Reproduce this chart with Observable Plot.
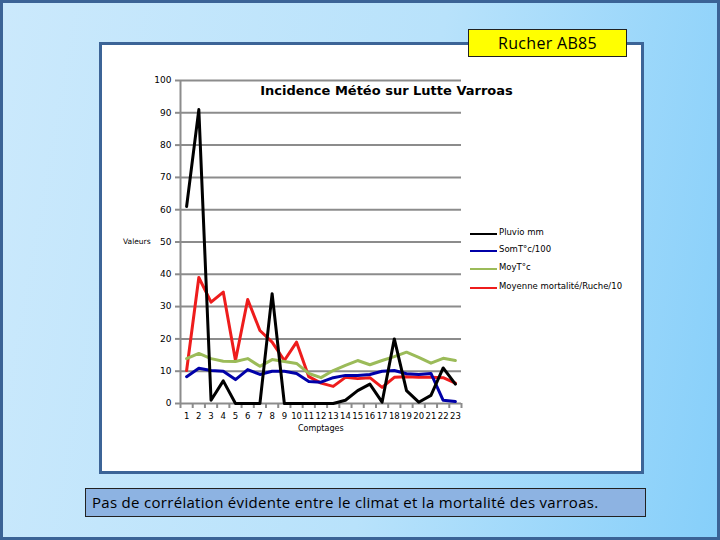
<!DOCTYPE html>
<html>
<head>
<meta charset="utf-8">
<script src="https://cdn.jsdelivr.net/npm/d3@7"></script>
<script src="https://cdn.jsdelivr.net/npm/@observablehq/plot@0.6"></script>
<style>
  html, body { margin: 0; padding: 0; }
  #page {
    position: relative; width: 720px; height: 540px; box-sizing: border-box;
    border: 3px solid #3b6396;
    background: linear-gradient(100deg, #cbe9fc 0%, #b8e2fb 55%, #86cffa 100%);
    overflow: hidden; font-family: "DejaVu Sans", sans-serif;
  }
  .abs { position: absolute; }
  #box { left: 96px; top: 39px; width: 545px; height: 432px; box-sizing: border-box;
         background: #fff; border: 3px solid #3c6497; }
  #rucher { left: 465px; top: 26px; width: 159px; height: 28px; box-sizing: border-box;
            background: #ffff00; border: 1px solid #222; font-family: "Open Sans", sans-serif;
            font-size: 16px; letter-spacing: 0.3px; line-height: 26px; text-align: center; color: #000; }
  #caption { left: 82px; top: 485px; width: 561px; height: 29px; box-sizing: border-box;
             background: #8db3e2; border: 1px solid #222; font-family: "Open Sans", sans-serif;
             font-size: 15px; letter-spacing: 0.3px; line-height: 27px; padding-left: 6px; color: #000; white-space: nowrap; }
  #title { left: 250px; top: 80px; width: 267px; text-align: center; font-weight: bold;
           font-size: 13px; white-space: nowrap; }
  #chart { left: 97px; top: 42px; }
  #ylab { left: 120px; top: 234px; font-size: 7.5px; }
  #xlab { left: 295px; top: 421px; font-size: 8px; }
  .leg { font-size: 8.5px; white-space: nowrap; }
  .legline { height: 2px; width: 27px; }
</style>
</head>
<body>
<div id="page">
  <div id="box" class="abs"></div>
  <div id="rucher" class="abs">Rucher AB85</div>
  <div id="chart" class="abs"></div>
  <div id="title" class="abs">Incidence Météo sur Lutte Varroas</div>
  <div id="ylab" class="abs">Valeurs</div>
  <div id="xlab" class="abs">Comptages</div>
  <div id="legend"></div>
  <div id="caption" class="abs">Pas de corrélation évidente entre le climat et la mortalité des varroas.</div>
</div>
<script>
const categories = [1,2,3,4,5,6,7,8,9,10,11,12,13,14,15,16,17,18,19,20,21,22,23];
const pluvio     = [61,91,1,7,0,0,0,34,0,0,0,0,0,1,4,6,0.4,20,4,0.4,2.5,11,6];
const somT       = [8.3,10.9,10.2,10,7.4,10.5,9,10,10,9.3,6.8,6.6,8,8.7,8.7,9,10,10.2,9.2,9,9.3,1,0.6];
const moyT       = [13.9,15.5,13.9,13.1,13,13.9,11.5,13.6,13,12.4,9.3,8,10.2,11.8,13.3,12,13.3,14.5,15.9,14.3,12.5,14,13.3];
const mortalite  = [10.2,39,31.4,34.5,13.3,32.2,22.6,19,13.3,19,8.3,6.3,5.3,8.1,7.7,8,5,8.1,8.3,8.1,8.1,8,6.3];
const seriesNames  = ["Pluvio mm", "SomT°c/100", "MoyT°c", "Moyenne mortalité/Ruche/10"];
const seriesColors = ["#000000", "#0000a8", "#9bbb59", "#ee1c1c"];
const yTicks = [0,10,20,30,40,50,60,70,80,90,100];

const seriesValues = [pluvio, somT, moyT, mortalite];
const rows = [];
seriesNames.forEach((name, s) => categories.forEach((c, i) => rows.push({serie: name, x: c, y: seriesValues[s][i]})));
const boundaries = categories.map(c => c - 0.5).concat([categories[categories.length - 1] + 0.5]);

const grid = "#8c8c8c";
const drawOrder = [3, 2, 1, 0];
const chart = Plot.plot({
  width: 540, height: 425,
  marginLeft: 80, marginRight: 179, marginTop: 35, marginBottom: 67,
  x: {domain: [0.5, 23.5]},
  y: {domain: [0, 100]},
  style: {fontFamily: "DejaVu Sans", fontSize: "9px", background: "transparent", color: "#000", overflow: "visible"},
  marks: [
    Plot.ruleY(yTicks, {stroke: grid, strokeWidth: 2}),
    Plot.ruleX([0.5], {stroke: grid, strokeWidth: 2}),
    Plot.axisY({ticks: yTicks, tickSize: 5, tickPadding: 4, stroke: grid, strokeWidth: 2, label: null, fontSize: 9}),
    Plot.axisX({ticks: boundaries, tickSize: 5, tickFormat: () => "", stroke: grid, strokeWidth: 2, label: null}),
    Plot.axisX({ticks: categories, tickSize: 0, tickPadding: 9, tickFormat: d => String(d), label: null, fontSize: 8.5}),
    ...drawOrder.map(s => Plot.line(rows.filter(r => r.serie === seriesNames[s]),
      {x: "x", y: "y", stroke: seriesColors[s], strokeWidth: 3, strokeLinejoin: "round"}))
  ]
});
document.getElementById("chart").appendChild(chart);

const legend = document.getElementById("legend");
const legY = [228, 245, 263, 282];
seriesNames.forEach((name, i) => {
  const l = document.createElement("div");
  l.className = "abs legline";
  l.style.left = "467px"; l.style.top = (legY[i] + 2) + "px"; l.style.background = seriesColors[i];
  legend.appendChild(l);
  const t = document.createElement("div");
  t.className = "abs leg";
  t.style.left = "496px"; t.style.top = (legY[i] - 4) + "px";
  t.textContent = name;
  legend.appendChild(t);
});
</script>
</body>
</html>
